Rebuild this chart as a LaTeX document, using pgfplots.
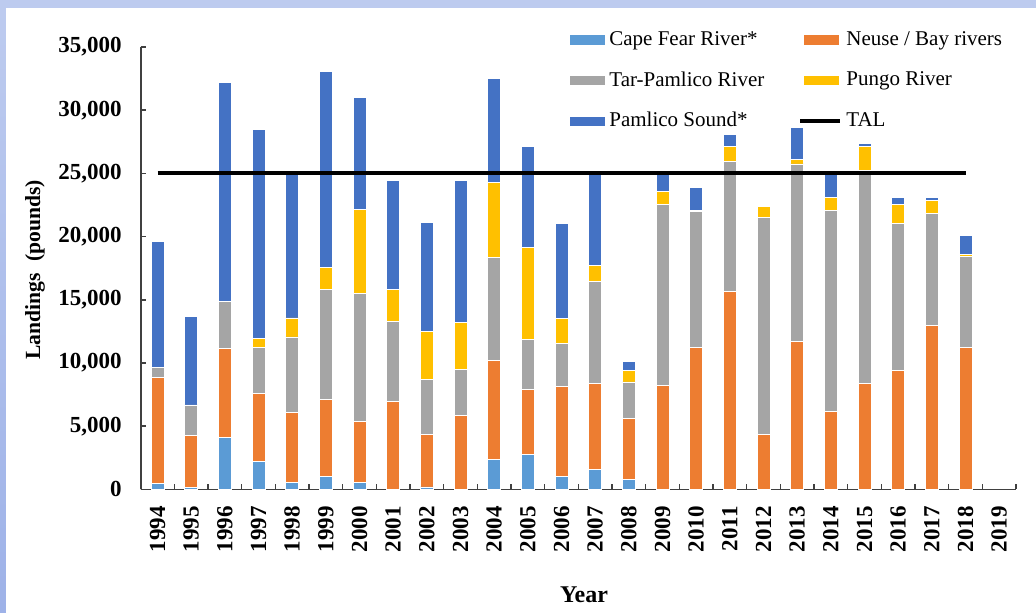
\documentclass[border=0pt]{standalone}
\usepackage{pgfplots}
\pgfplotsset{compat=1.18}
\usepackage{pgfplotstable}
\usepackage{fontspec}
\setmainfont{Liberation Serif}

\definecolor{capefear}{RGB}{91,155,213}
\definecolor{neuse}{RGB}{237,125,49}
\definecolor{tarpam}{RGB}{165,165,165}
\definecolor{pungo}{RGB}{255,192,0}
\definecolor{psound}{RGB}{68,114,196}
\definecolor{bandtop}{RGB}{189,203,239}
\definecolor{bandlo}{RGB}{158,178,232}

% x = 0 is 1994
\pgfplotstableread{
x    CF    N     T     P     PS
0    450   8390  820   0     9990
1    190   4060  2430  0     7010
2    4120  7010  3720  0     17350
3    2190  5380  3640  740   16560
4    560   5510  5990  1505  11340
5    1000  6130  8720  1740  15510
6    560   4800  10150 6670  8860
7    0     6990  6330  2530  8620
8    200   4160  4350  3820  8620
9    0     5830  3690  3700  11250
10   2380  7830  8170  5930  8230
11   2750  5170  3920  7330  7940
12   1000  7120  3460  1980  7460
13   1590  6800  8040  1270  7200
14   800   4820  2880  890   710
15   0     8260  14260 1030  1400
16   0     11210 10790 80    1820
17   0     15640 10340 1130  950
18   0     4360  17130 930   0
19   0     11710 14050 350   2500
20   0     6180  15870 1050  2160
21   0     8390  16870 1850  240
22   0     9390  11660 1500  550
23   0     12980 8860  1050  210
24   0     11210 7200  210   1480
}\landings

\pgfplotsset{
  barleg/.style={legend image code/.code={\fill[##1] (0pt,-2.6pt) rectangle (18pt,2.6pt);}},
  talleg/.style={legend image code/.code={\draw[##1] (-1.5pt,0pt) -- (18.5pt,0pt);}},
}

\begin{document}
\begin{tikzpicture}
% page background with the lavender band on top and left
\fill[bandtop] (-70.35pt,-61.3pt) rectangle (447.65pt,244.7pt);
\shade[top color=bandtop, bottom color=bandlo] (-70.35pt,-61.3pt) rectangle (-67.35pt,240.7pt);
\fill[white] (-67.35pt,-61.3pt) rectangle (447.65pt,240.7pt);

\begin{axis}[
    scale only axis,
    width=437.65pt,
    height=221.2pt,
    ybar stacked,
    bar width=0.386,
    xmin=-0.5, xmax=25.5,
    ymin=0, ymax=35000,
    enlargelimits=false,
    axis x line*=bottom,
    axis y line*=left,
    axis line style={black!75, line width=0.8pt},
    xtick={0,...,25},
    xticklabels={1994,1995,1996,1997,1998,1999,2000,2001,2002,2003,2004,2005,2006,
                 2007,2008,2009,2010,2011,2012,2013,2014,2015,2016,2017,2018,2019},
    minor xtick={-0.5,0.5,...,25.5},
    major x tick style={draw=none},
    minor x tick style={black!75, line width=0.8pt},
    minor tick length=2.6pt,
    ytick={0,5000,...,35000},
    ytick style={black!75, line width=0.8pt},
    major tick length=2.6pt,
    tick align=inside,
    scaled y ticks=false,
    /pgf/number format/assume math mode=true,
    /pgf/number format/1000 sep={,},
    yticklabel style={font=\fontsize{11.5}{13}\selectfont\bfseries, xshift=-6pt},
    xticklabel style={font=\fontsize{11.5}{13}\selectfont\bfseries, rotate=90, anchor=east, xshift=-5pt},
    xlabel={Year},
    xlabel style={font=\fontsize{12}{14}\selectfont\bfseries, at={(axis description cs:0.5065,-0.2387)}, anchor=center},
    ylabel={Landings\hspace{0.55em}(pounds)},
    ylabel style={font=\fontsize{10.8}{13}\selectfont\bfseries, at={(axis description cs:-0.1208,0.496)}, anchor=center},
    legend columns=2,
    legend cell align=left,
    legend style={draw=none, fill=none, inner sep=0pt,
      font=\fontsize{10.5}{12}\selectfont,
      at={(axis description cs:0.4886,1.045)}, anchor=north west,
      row sep=7.6pt,
      /tikz/column 2/.style={column sep=15pt}},
    every axis plot/.append style={draw=white, line width=0.3pt},
]
\addplot[fill=capefear, barleg] table[x=x, y=CF] {\landings};
\addlegendentry{Cape Fear River*}
\addplot[fill=neuse, barleg] table[x=x, y=N] {\landings};
\addlegendentry{Neuse / Bay rivers}
\addplot[fill=tarpam, barleg] table[x=x, y=T] {\landings};
\addlegendentry{Tar-Pamlico River}
\addplot[fill=pungo, barleg] table[x=x, y=P] {\landings};
\addlegendentry{Pungo River}
\addplot[fill=psound, barleg] table[x=x, y=PS] {\landings};
\addlegendentry{Pamlico Sound*}
\addlegendimage{black, line width=2pt, talleg}
\addlegendentry{TAL}
\end{axis}

% the TAL line, in an axis of its own so that it is not stacked
\begin{axis}[
    scale only axis,
    width=437.65pt,
    height=221.2pt,
    xmin=-0.5, xmax=25.5,
    ymin=0, ymax=35000,
    hide axis,
]
\addplot[black, line width=2pt] coordinates {(0,25000) (24,25000)};
\end{axis}

\pgfresetboundingbox
\path[use as bounding box] (-70.35pt,-61.3pt) rectangle (447.65pt,244.7pt);
\end{tikzpicture}
\end{document}
